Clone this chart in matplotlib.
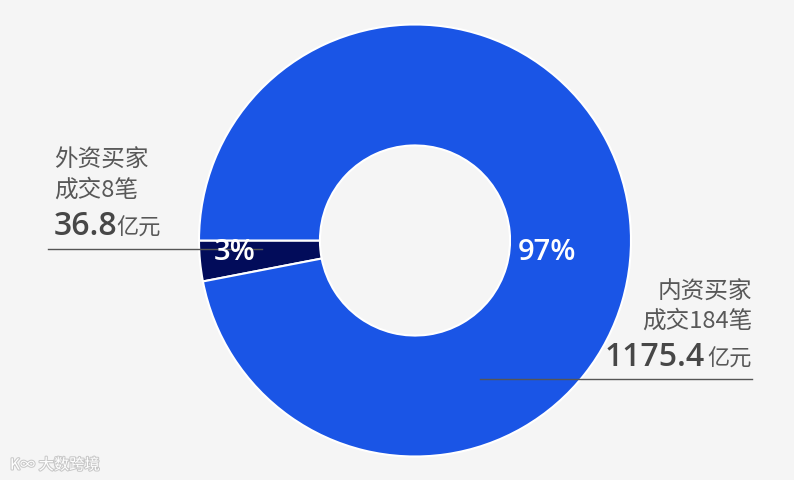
import matplotlib
matplotlib.use("Agg")
import matplotlib.pyplot as plt
import matplotlib.patheffects as pe

plt.rcParams['font.family'] = ['Noto Sans CJK SC', 'DejaVu Sans']

# Data
categories = ["外资买家", "内资买家"]
deals = [8, 184]
amounts = [36.8, 1175.4]   # 亿元
pct_labels = ["3%", "97%"]
colors = ["#020c5a", "#1a55e6"]

W, H = 794, 480
fig = plt.figure(figsize=(W / 100, H / 100), dpi=100)
fig.patch.set_facecolor("#f5f5f5")
ax = fig.add_axes([0, 0, 1, 1])

def Y(yp):
    return H - yp

cx, cy, R = 415, Y(240.5), 216
ax.pie(amounts, colors=colors, startangle=180, counterclock=True,
       center=(cx, cy), radius=R, frame=True,
       wedgeprops=dict(width=R * 0.56, edgecolor="white", linewidth=1.5))
ax.set_xlim(0, W)
ax.set_ylim(0, H)
ax.set_aspect("equal")
ax.axis("off")

num_fam = ["Open Sans", "DejaVu Sans"]

# percentage labels
ax.text(235, Y(253), pct_labels[0], color="white", fontsize=21, fontweight="semibold",
        family=num_fam, ha="center", va="center")
ax.text(547, Y(253), pct_labels[1], color="white", fontsize=21, fontweight="semibold",
        family=num_fam, ha="center", va="center")

lab_col = "#585858"
num_col = "#474747"

# left annotation
ax.text(54, Y(160), categories[0], color=lab_col, fontsize=17, ha="left", va="center")
ax.text(54, Y(190), f"成交{deals[0]}笔", color=lab_col, fontsize=17, ha="left", va="center")
ax.text(54, Y(235), f"{amounts[0]}", color=num_col, fontsize=23, fontweight="semibold",
        family=num_fam, ha="left", va="baseline")
ax.text(116, Y(235), "亿元", color=lab_col, fontsize=16, ha="left", va="baseline")
ax.plot([48, 262], [Y(249), Y(249)], color="#555555", linewidth=1.0)

# right annotation
ax.text(752, Y(292), categories[1], color=lab_col, fontsize=17, ha="right", va="center")
ax.text(752, Y(321), f"成交{deals[1]}笔", color=lab_col, fontsize=17, ha="right", va="center")
ax.text(705, Y(366), f"{amounts[1]}", color=num_col, fontsize=23, fontweight="semibold",
        family=num_fam, ha="right", va="baseline")
ax.text(752, Y(366), "亿元", color=lab_col, fontsize=16, ha="right", va="baseline")
ax.plot([480, 752], [Y(379), Y(379)], color="#555555", linewidth=1.0)

# watermark
ax.text(10, Y(465), "K∞ 大数跨境", color="white", fontsize=11, ha="left", va="center",
        path_effects=[pe.withStroke(linewidth=1.5, foreground="#c8c8c8")])

fig.savefig("out.png", dpi=100, facecolor=fig.get_facecolor())
